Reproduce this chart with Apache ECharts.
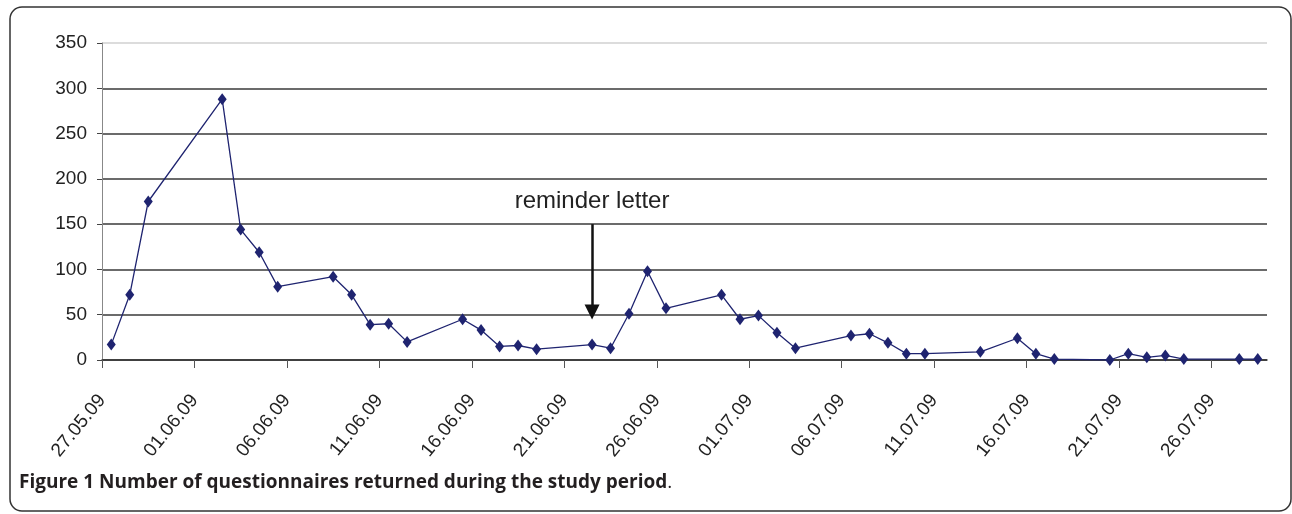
<!DOCTYPE html>
<html>
<head>
<meta charset="utf-8">
<script src="https://cdn.jsdelivr.net/npm/echarts@6/dist/echarts.min.js"></script>
<style>
  html, body { margin: 0; padding: 0; background: #fff; }
  #chart { width: 1292px; height: 514px; }
</style>
</head>
<body>
<div id="chart"></div>
<script>
// days with returns (dd.mm.yy) and number of questionnaires returned that day
var dates = ['27.05.09', '28.05.09', '29.05.09', '02.06.09', '03.06.09', '04.06.09', '05.06.09',
  '08.06.09', '09.06.09', '10.06.09', '11.06.09', '12.06.09', '15.06.09', '16.06.09', '17.06.09',
  '18.06.09', '19.06.09', '22.06.09', '23.06.09', '24.06.09', '25.06.09', '26.06.09', '29.06.09',
  '30.06.09', '01.07.09', '02.07.09', '03.07.09', '06.07.09', '07.07.09', '08.07.09', '09.07.09',
  '10.07.09', '13.07.09', '15.07.09', '16.07.09', '17.07.09', '20.07.09', '21.07.09', '22.07.09',
  '23.07.09', '24.07.09', '27.07.09', '28.07.09'];
var returned = [17, 72, 175, 288, 144, 119, 81,
  92, 72, 39, 40, 20, 45, 33, 15,
  16, 12, 17, 13, 51, 98, 57, 72,
  45, 49, 30, 13, 27, 29, 19, 7,
  7, 9, 24, 7, 1, 0, 7, 3,
  5, 1, 1, 1];
var tickLabels = ['27.05.09', '01.06.09', '06.06.09', '11.06.09', '16.06.09', '21.06.09', '26.06.09',
  '01.07.09', '06.07.09', '11.07.09', '16.07.09', '21.07.09', '26.07.09'];
var axisEndDate = '29.07.09'; // axis runs to the end of 28.07
var yTicks = [0, 50, 100, 150, 200, 250, 300, 350];

// reminder letter annotation
var reminderDate = '22.06.09';
var reminderFrom = 150;
var reminderTo = 53;

// days since the first tick
function dayIndex(s) {
  var p = s.split('.').map(Number);
  var q = tickLabels[0].split('.').map(Number);
  return (Date.UTC(2000 + p[2], p[1] - 1, p[0]) - Date.UTC(2000 + q[2], q[1] - 1, q[0])) / 86400000;
}

var points = dates.map(function (d, i) { return [dayIndex(d) + 0.5, returned[i]]; });
var tickDays = tickLabels.map(dayIndex);
var labelByDay = {};
tickLabels.forEach(function (t) { labelByDay[dayIndex(t)] = t; });

var myChart = echarts.init(document.getElementById('chart'));

var option = {
  animation: false,
  backgroundColor: '#fff',
  grid: { left: 102, right: 25, top: 43, bottom: 154 },
  xAxis: {
    type: 'value',
    min: 0,
    max: dayIndex(axisEndDate),
    splitLine: { show: false },
    axisLine: { show: true, onZero: false, lineStyle: { color: '#333', width: 1.5 } },
    axisTick: { show: true, length: 8, customValues: tickDays, lineStyle: { color: '#555', width: 1 } },
    axisLabel: {
      customValues: tickDays,
      rotate: 51,
      margin: 37,
      color: '#222',
      fontSize: 19,
      fontFamily: 'Liberation Sans, Arial, sans-serif',
      formatter: function (v) { return labelByDay[v] || ''; }
    }
  },
  yAxis: {
    type: 'value',
    min: yTicks[0],
    max: yTicks[yTicks.length - 1],
    interval: yTicks[1] - yTicks[0],
    axisLine: { show: true, lineStyle: { color: '#888', width: 1 } },
    axisTick: { show: true, length: 5, lineStyle: { color: '#444' } },
    axisLabel: {
      margin: 15,
      color: '#222',
      fontSize: 19,
      fontFamily: 'Liberation Sans, Arial, sans-serif'
    },
    splitLine: {
      show: true,
      lineStyle: {
        width: 1.5,
        color: ['#3a3a3a', '#3a3a3a', '#3a3a3a', '#3a3a3a', '#3a3a3a', '#3a3a3a', '#3a3a3a', '#d0d0d0']
      }
    }
  },
  series: [
    {
      type: 'line',
      data: points,
      symbol: 'diamond',
      symbolSize: [9, 12],
      lineStyle: { color: '#1f2470', width: 1.3 },
      itemStyle: { color: '#1f2470' },
      markLine: {
        silent: true,
        symbol: ['none', 'triangle'],
        symbolSize: [15, 15],
        lineStyle: { color: '#111', width: 2.5, type: 'solid' },
        itemStyle: { color: '#111' },
        label: {
          show: true,
          position: 'start',
          distance: 11,
          formatter: 'reminder letter',
          color: '#222',
          fontSize: 24,
          fontFamily: 'Liberation Sans, Arial, sans-serif'
        },
        data: [[
          { coord: [dayIndex(reminderDate) + 0.5, reminderFrom] },
          { coord: [dayIndex(reminderDate) + 0.5, reminderTo] }
        ]]
      }
    }
  ],
  graphic: [
    {
      type: 'rect',
      shape: { x: 10, y: 7, width: 1281, height: 504, r: 12 },
      style: { fill: 'none', stroke: '#333', lineWidth: 1.5 },
      silent: true
    },
    {
      type: 'text',
      left: 19,
      top: 473,
      style: {
        text: '{b|Figure 1 Number of questionnaires returned during the study period}{r|.}',
        rich: {
          b: { fontSize: 19, fontWeight: 'bold', fontFamily: 'Open Sans, sans-serif', fill: '#231f20' },
          r: { fontSize: 19, fontFamily: 'Open Sans, sans-serif', fill: '#231f20' }
        }
      }
    }
  ]
};

myChart.setOption(option);
</script>
</body>
</html>
